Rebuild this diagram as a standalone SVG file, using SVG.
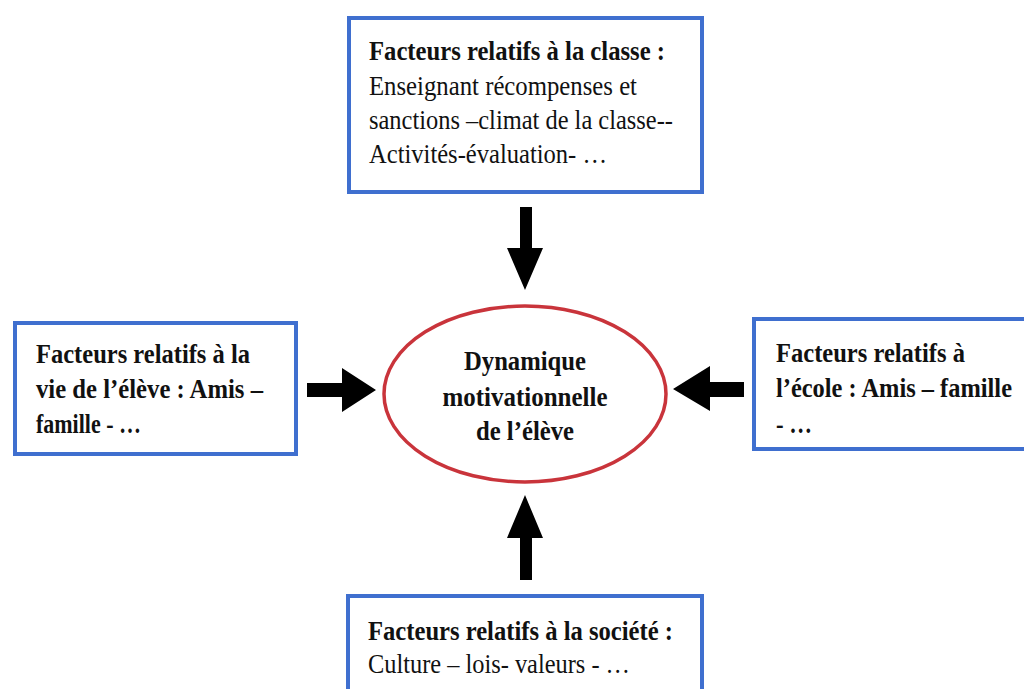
<svg xmlns="http://www.w3.org/2000/svg" width="1024" height="689" viewBox="0 0 1024 689">
<style>
.box{fill:#fff;stroke:#3F6FCF;stroke-width:4}
.t{font-family:"Liberation Serif","Times New Roman",serif;font-size:26.5px;fill:#111}
.b{font-weight:bold}
.c{text-anchor:middle}
.arr{fill:#000}
</style>
<rect width="1024" height="689" fill="#fff"/>
<g id="classe">
<rect class="box" x="349" y="18" width="353" height="174"/>
<text class="t b" x="369" y="60" textLength="296" lengthAdjust="spacingAndGlyphs">Facteurs relatifs à la classe :</text>
<text class="t" x="369" y="95" textLength="268" lengthAdjust="spacingAndGlyphs">Enseignant récompenses et</text>
<text class="t" x="369" y="129" textLength="304" lengthAdjust="spacingAndGlyphs">sanctions –climat de la classe--</text>
<text class="t" x="369" y="163" textLength="238" lengthAdjust="spacingAndGlyphs">Activités-évaluation- …</text>
</g>
<g id="vie">
<rect class="box" x="15" y="323" width="281" height="131"/>
<text class="t b" x="36" y="363" textLength="214" lengthAdjust="spacingAndGlyphs">Facteurs relatifs à la</text>
<text class="t b" x="36" y="398" textLength="227" lengthAdjust="spacingAndGlyphs">vie de l’élève : Amis –</text>
<text class="t b" x="36" y="433" textLength="105" lengthAdjust="spacingAndGlyphs">famille - …</text>
</g>
<g id="ecole">
<rect class="box" x="754" y="319" width="280" height="130"/>
<text class="t b" x="776" y="362" textLength="189" lengthAdjust="spacingAndGlyphs">Facteurs relatifs à</text>
<text class="t b" x="776" y="397" textLength="236" lengthAdjust="spacingAndGlyphs">l’école : Amis – famille</text>
<text class="t b" x="776" y="433" textLength="36" lengthAdjust="spacingAndGlyphs">- …</text>
</g>
<g id="societe">
<rect class="box" x="348" y="596" width="354" height="110"/>
<text class="t b" x="368" y="640" textLength="305" lengthAdjust="spacingAndGlyphs">Facteurs relatifs à la société :</text>
<text class="t" x="368" y="673" textLength="262" lengthAdjust="spacingAndGlyphs">Culture – lois- valeurs - …</text>
</g>
<g id="dynamique">
<ellipse cx="525" cy="394" rx="141" ry="88" fill="#fff" stroke="#C9343B" stroke-width="3.5"/>
<text class="t b c" x="525" y="370" textLength="122" lengthAdjust="spacingAndGlyphs">Dynamique</text>
<text class="t b c" x="525" y="406" textLength="165" lengthAdjust="spacingAndGlyphs">motivationnelle</text>
<text class="t b c" x="525" y="440" textLength="98" lengthAdjust="spacingAndGlyphs">de l’élève</text>
</g>
<g id="connectors">
<polygon class="arr" points="520,207 532,207 532,248 543,248 525,290 507,248 520,248"/>
<polygon class="arr" points="520,580 532,580 532,538 543,538 525,495 507,538 520,538"/>
<polygon class="arr" points="307,383 342,383 342,368 376,390 342,412 342,397 307,397"/>
<polygon class="arr" points="744,382 710,382 710,366 673,389 710,411 710,397 744,397"/>
</g>
</svg>
